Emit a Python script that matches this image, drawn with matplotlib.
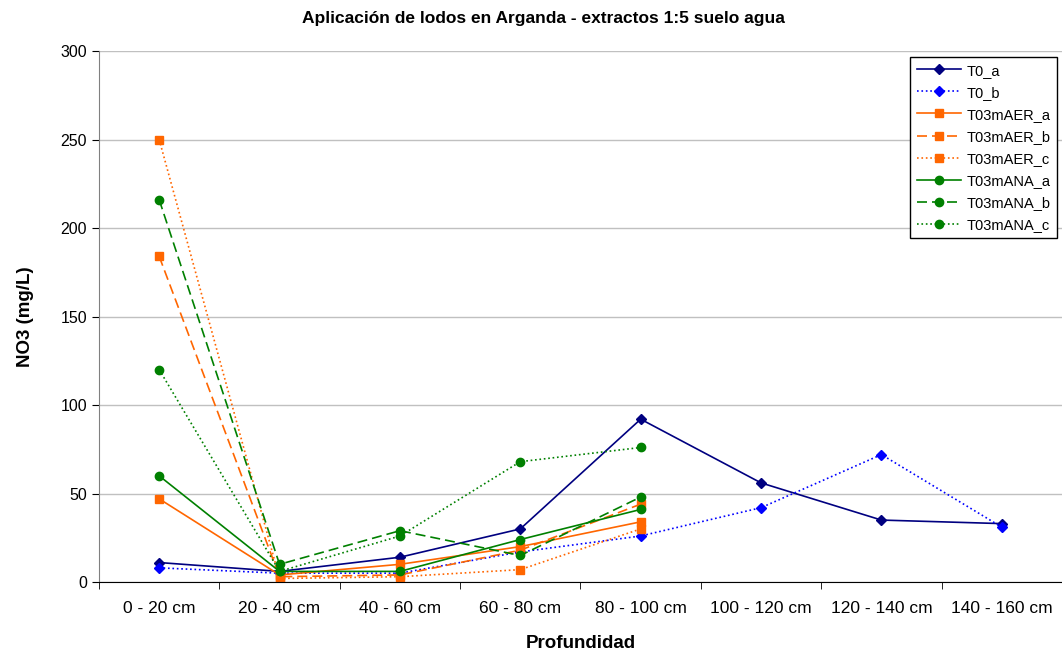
import numpy as np
import matplotlib.pyplot as plt

plt.rcParams['font.family'] = ['Liberation Sans', 'DejaVu Sans']

# depth categories
categorias = ['0 - 20 cm', '20 - 40 cm', '40 - 60 cm', '60 - 80 cm',
              '80 - 100 cm', '100 - 120 cm', '120 - 140 cm', '140 - 160 cm']

# NO3 (mg/L) per series
t0_a = [11, 6, 14, 30, 92, 56, 35, 33]
t0_b = [8, 5, 5, 17, 26, 42, 72, 31]
aer_a = [47, 4, 10, 20, 34]
aer_b = [184, 3, 4, 18, 44]
aer_c = [250, 2, 3, 7, 30]
ana_a = [60, 6, 6, 24, 41]
ana_b = [216, 10, 29, 15, 48]
ana_c = [120, 6, 26, 68, 76]

series = [
    ('T0_a', t0_a, '#000080', '-', 'D', 5),
    ('T0_b', t0_b, '#0000FF', ':', 'D', 5),
    ('T03mAER_a', aer_a, '#FF6600', '-', 's', 6),
    ('T03mAER_b', aer_b, '#FF6600', (0, (6, 3)), 's', 6),
    ('T03mAER_c', aer_c, '#FF6600', ':', 's', 6),
    ('T03mANA_a', ana_a, '#008000', '-', 'o', 6),
    ('T03mANA_b', ana_b, '#008000', (0, (6, 3)), 'o', 6),
    ('T03mANA_c', ana_c, '#008000', ':', 'o', 6),
]

fig = plt.figure(figsize=(10.62, 6.53), dpi=100)
ax = fig.add_axes([0.0932, 0.1087, 0.9068, 0.8132])

for nombre, vals, color, ls, mk, ms in series:
    x = np.arange(len(vals))
    ax.plot(x, vals, color=color, linestyle=ls, marker=mk, markersize=ms,
            linewidth=1.2, label=nombre)

ax.set_xlim(-0.5, len(categorias) - 0.5)
ax.set_ylim(0, 300)
ax.set_yticks(np.arange(0, 301, 50))
ax.yaxis.grid(True, color='#C0C0C0', linewidth=1)
ax.set_axisbelow(True)

# category labels centered, ticks between categories
ax.set_xticks(np.arange(len(categorias)))
ax.set_xticklabels(categorias, fontsize=12.5)
ax.set_xticks(np.arange(len(categorias) + 1) - 0.5, minor=True)
ax.tick_params(axis='x', which='major', length=0, pad=14)
ax.tick_params(axis='x', which='minor', length=5, direction='out', color='black')
ax.tick_params(axis='y', labelsize=11.5, length=5, direction='out')

for s in ['top', 'right']:
    ax.spines[s].set_visible(False)
ax.spines['left'].set_color('#808080')
ax.spines['bottom'].set_color('black')

ax.set_xlabel('Profundidad', fontsize=13.5, fontweight='bold', labelpad=13)
ax.set_ylabel('NO3 (mg/L)', fontsize=13.5, fontweight='bold', labelpad=19)
fig.text(543 / 1062, 1 - 18 / 653,
         'Aplicación de lodos en Arganda - extractos 1:5 suelo agua',
         ha='center', va='center', fontsize=12.5, fontweight='bold')

leg = ax.legend(loc='upper right', bbox_to_anchor=(0.9948, 0.9887), borderaxespad=0,
                fontsize=10.5, handlelength=3.0, handletextpad=0.4,
                labelspacing=0.55, borderpad=0.45,
                fancybox=False, framealpha=1, edgecolor='black')
leg.get_frame().set_linewidth(1)

fig.savefig('out.png', dpi=100)
